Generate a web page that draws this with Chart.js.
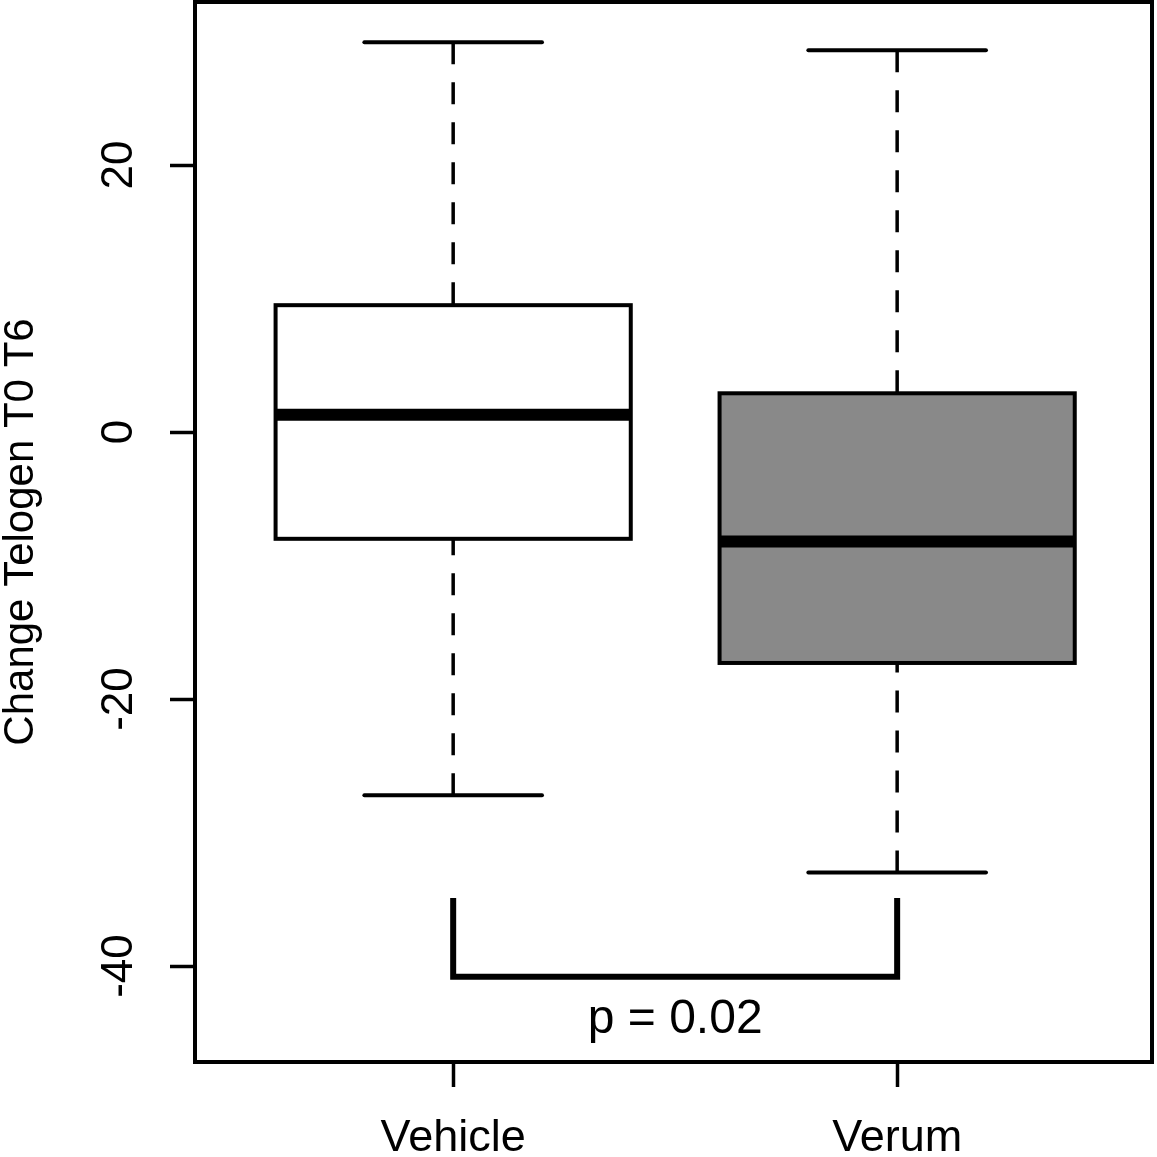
<!DOCTYPE html>
<html>
<head>
<meta charset="utf-8">
<title>Change Telogen T0 T6</title>
<script src="https://cdn.jsdelivr.net/npm/chart.js@4.4.1/dist/chart.umd.min.js"></script>
<style>
  html, body { margin: 0; padding: 0; background: #fff; }
  canvas { display: block; }
</style>
</head>
<body>
<canvas id="chart" width="1157" height="1157"></canvas>
<script>
// box statistics per group
var categories = ['Vehicle', 'Verum'];
var positions = [1, 2];
var whiskerHigh = [29.2, 28.6];
var upperQuartile = [9.5, 2.9];
var median = [1.3, -8.2];
var lowerQuartile = [-8.0, -17.3];
var whiskerLow = [-27.2, -33.0];
var boxFill = ['#ffffff', '#898989'];

var yTicks = [-40, -20, 0, 20];
var yLabel = 'Change Telogen T0 T6';

// significance bracket between the two groups
var pText = 'p = 0.02';
var bracketTop = -34.9;
var bracketBottom = -40.8;
var pTextY = -45.0;

var FONT = '"Liberation Sans", Arial, Helvetica, sans-serif';

var boxplotPlugin = {
  id: 'boxplot',
  afterDatasetsDraw: function (chart) {
    var ctx = chart.ctx;
    var xs = chart.scales.x, ys = chart.scales.y;
    var area = chart.chartArea;
    var half = 0.4, capHalf = 0.2;

    ctx.save();
    ctx.strokeStyle = '#000';

    // whiskers (dashed), drawn from the whisker end toward the box
    ctx.lineWidth = 3.5;
    ctx.setLineDash([22, 18]);
    for (var i = 0; i < positions.length; i++) {
      var px = xs.getPixelForValue(positions[i]);
      ctx.beginPath();
      ctx.moveTo(px, ys.getPixelForValue(whiskerHigh[i]));
      ctx.lineTo(px, ys.getPixelForValue(upperQuartile[i]));
      ctx.moveTo(px, ys.getPixelForValue(whiskerLow[i]));
      ctx.lineTo(px, ys.getPixelForValue(lowerQuartile[i]));
      ctx.stroke();
    }
    ctx.setLineDash([]);

    // caps
    ctx.lineWidth = 4;
    ctx.lineCap = 'round';
    for (i = 0; i < positions.length; i++) {
      var l = xs.getPixelForValue(positions[i] - capHalf);
      var r = xs.getPixelForValue(positions[i] + capHalf);
      [whiskerHigh[i], whiskerLow[i]].forEach(function (v) {
        var py = ys.getPixelForValue(v);
        ctx.beginPath();
        ctx.moveTo(l, py);
        ctx.lineTo(r, py);
        ctx.stroke();
      });
    }
    ctx.lineCap = 'butt';

    // boxes and medians
    for (i = 0; i < positions.length; i++) {
      var bl = xs.getPixelForValue(positions[i] - half);
      var br = xs.getPixelForValue(positions[i] + half);
      var bt = ys.getPixelForValue(upperQuartile[i]);
      var bb = ys.getPixelForValue(lowerQuartile[i]);
      ctx.fillStyle = boxFill[i];
      ctx.fillRect(bl, bt, br - bl, bb - bt);
      ctx.lineWidth = 4;
      ctx.strokeRect(bl, bt, br - bl, bb - bt);
      var my = ys.getPixelForValue(median[i]);
      ctx.lineWidth = 12;
      ctx.beginPath();
      ctx.moveTo(bl, my);
      ctx.lineTo(br, my);
      ctx.stroke();
    }

    // bracket + p value
    var x1 = xs.getPixelForValue(positions[0]);
    var x2 = xs.getPixelForValue(positions[1]);
    var yt = ys.getPixelForValue(bracketTop);
    var yb = ys.getPixelForValue(bracketBottom);
    ctx.lineWidth = 6;
    ctx.lineJoin = 'miter';
    ctx.beginPath();
    ctx.moveTo(x1, yt);
    ctx.lineTo(x1, yb);
    ctx.lineTo(x2, yb);
    ctx.lineTo(x2, yt);
    ctx.stroke();

    ctx.fillStyle = '#000';
    ctx.font = '48px ' + FONT;
    ctx.textAlign = 'center';
    ctx.textBaseline = 'alphabetic';
    ctx.fillText(pText, (x1 + x2) / 2, ys.getPixelForValue(pTextY));

    // plot frame
    ctx.lineWidth = 4;
    ctx.strokeRect(area.left, area.top, area.right - area.left, area.bottom - area.top);
    ctx.restore();
  }
};

new Chart(document.getElementById('chart'), {
  type: 'scatter',
  data: { datasets: [] },
  options: {
    responsive: false,
    animation: false,
    devicePixelRatio: 1,
    layout: { padding: { top: 2, right: 5, left: 0, bottom: 0 } },
    plugins: { legend: { display: false }, tooltip: { enabled: false } },
    scales: {
      x: {
        type: 'linear',
        min: 0.4185,
        max: 2.574,
        afterBuildTicks: function (s) {
          s.ticks = positions.map(function (v) { return { value: v }; });
        },
        afterFit: function (s) {
          s.height = 95;
          s.paddingLeft = 0;
          s.paddingRight = 0;
        },
        ticks: {
          autoSkip: false,
          maxRotation: 0,
          padding: 25,
          color: '#000',
          font: { family: FONT, size: 45 },
          callback: function (v, idx) { return categories[idx]; }
        },
        grid: { drawOnChartArea: false, drawTicks: true, tickLength: 25, tickWidth: 3.5, tickColor: '#000' },
        border: { display: false }
      },
      y: {
        type: 'linear',
        min: -47.19,
        max: 32.21,
        afterBuildTicks: function (s) {
          s.ticks = yTicks.map(function (v) { return { value: v }; });
        },
        afterFit: function (s) {
          s.width = 195;
          s.paddingTop = 0;
          s.paddingBottom = 0;
        },
        ticks: {
          minRotation: 90,
          maxRotation: 90,
          crossAlign: 'center',
          padding: 18,
          color: '#000',
          font: { family: FONT, size: 44 }
        },
        grid: { drawOnChartArea: false, drawTicks: true, tickLength: 25, tickWidth: 3.5, tickColor: '#000' },
        border: { display: false },
        title: {
          display: true,
          text: yLabel,
          color: '#000',
          padding: 0,
          font: { family: FONT, size: 42, lineHeight: 1.0 }
        }
      }
    }
  },
  plugins: [boxplotPlugin]
});
</script>
</body>
</html>
